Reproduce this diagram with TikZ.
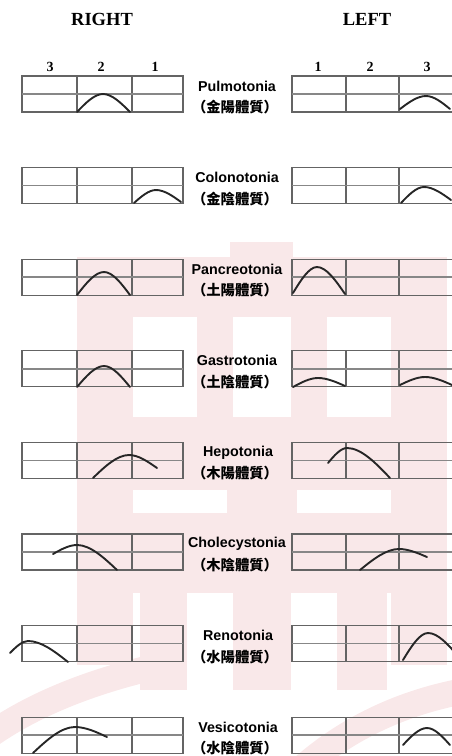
\documentclass[tikz,border=0pt]{standalone}
\usepackage{fontspec}
\setmainfont{Liberation Serif}
\setsansfont{Liberation Sans}
\newfontfamily\cjkfont{Noto Sans CJK TC}
\definecolor{wm}{RGB}{249,232,233}
\definecolor{boxgray}{RGB}{100,100,100}
\definecolor{midgray}{RGB}{135,135,135}
\newcommand\humpcurve[6]{%
  \pgfmathsetmacro\hca{#1+0.33*(#3-#1)}%
  \pgfmathsetmacro\hcb{#2+0.50*(#4-#2)}%
  \pgfmathsetmacro\hcc{#3-0.33*(#3-#1)}%
  \pgfmathsetmacro\hcd{#3+0.33*(#5-#3)}%
  \pgfmathsetmacro\hce{#5-0.33*(#5-#3)}%
  \pgfmathsetmacro\hcf{#6+0.50*(#4-#6)}%
  \draw[curve] (#1,#2) .. controls (\hca,\hcb) and (\hcc,#4) .. (#3,#4)
    .. controls (\hcd,#4) and (\hce,\hcf) .. (#5,#6);}
\newcommand\triboxes[1]{%
  \draw[boxline] (22,#1) rectangle (183,#1+36);
  \draw[boxline] (77,#1) -- (77,#1+36) (132,#1) -- (132,#1+36);
  \draw[midline] (22,#1+18) -- (183,#1+18);
  \draw[boxline] (460,#1) -- (292,#1) -- (292,#1+36) -- (460,#1+36);
  \draw[boxline] (346,#1) -- (346,#1+36) (399,#1) -- (399,#1+36);
  \draw[midline] (292,#1+18) -- (460,#1+18);}
\begin{document}
\begin{tikzpicture}[x=1pt,y=-1pt,
  boxline/.style={draw=boxgray,line width=1.3pt},
  midline/.style={draw=midgray,line width=1.7pt},
  curve/.style={draw=black!85,line width=1.9pt,line cap=round,line join=round},
  head/.style={font=\fontsize{18.5}{20}\selectfont\bfseries,inner sep=0pt},
  num/.style={font=\fontsize{14}{15}\selectfont\bfseries,inner sep=0pt},
  lab/.style={font=\sffamily\bfseries\fontsize{14.3}{16}\selectfont,inner sep=0pt},
  cjk/.style={font=\cjkfont\bfseries\fontsize{14.3}{16}\selectfont,inner sep=0pt}]
\useasboundingbox (0,0) rectangle (452,756);
\clip (0,0) rectangle (452,756);
% watermark
\fill[wm] (230,242) rectangle (293,257);
\fill[wm] (77,257) rectangle (447,317);
\fill[wm] (77,317) rectangle (133,490);
\fill[wm] (197,317) rectangle (233,490);
\fill[wm] (291,317) rectangle (327,490);
\fill[wm] (391,317) rectangle (447,490);
\fill[wm] (77,417) rectangle (447,490);
\fill[wm] (77,490) rectangle (133,513);
\fill[wm] (227,490) rectangle (297,513);
\fill[wm] (391,490) rectangle (447,513);
\fill[wm] (77,513) rectangle (447,593);
\fill[wm] (77,593) rectangle (133,665);
\fill[wm] (391,593) rectangle (447,665);
\fill[wm] (140,593) rectangle (187,690);
\fill[wm] (233,593) rectangle (291,690);
\fill[wm] (337,593) rectangle (387,690);
\draw[wm,line width=26pt] (-10,735) .. controls (40,700) and (100,680) .. (150,668);
\draw[wm,line width=26pt] (300,770) .. controls (350,725) and (410,700) .. (470,690);
% headers
\node[head] (hr) at (102,19) {RIGHT};
\node[head] (hl) at (367,19) {LEFT};
\node[num] (r3) at (50,67) {3};
\node[num] (r2) at (101,67) {2};
\node[num] (r1) at (155,67) {1};
\node[num] (l1) at (318,67) {1};
\node[num] (l2) at (370,67) {2};
\node[num] (l3) at (427,67) {3};
% boxes
\foreach \t in {76,167.6,259.2,350.8,442.4,534,625.6,717.2} {\triboxes{\t}}
% labels
\node[lab] (a1) at (237,86) {Pulmotonia};
\node[cjk] (b1) at (235,107) {（金陽體質）};
\node[lab] (a2) at (237,177.6) {Colonotonia};
\node[cjk] (b2) at (235,198.6) {（金陰體質）};
\node[lab] (a3) at (237,269.2) {Pancreotonia};
\node[cjk] (b3) at (235,290.2) {（土陽體質）};
\node[lab] (a4) at (237,360.8) {Gastrotonia};
\node[cjk] (b4) at (235,381.8) {（土陰體質）};
\node[lab] (a5) at (238,452.4) {Hepotonia};
\node[cjk] (b5) at (235,473.4) {（木陽體質）};
\node[lab] (a6) at (237,544) {Cholecystonia};
\node[cjk] (b6) at (235,565) {（木陰體質）};
\node[lab] (a7) at (238,635.6) {Renotonia};
\node[cjk] (b7) at (235,656.6) {（水陽體質）};
\node[lab] (a8) at (238,727.2) {Vesicotonia};
\node[cjk] (b8) at (235,748.2) {（水陰體質）};
% curves
\humpcurve{77}{112}{103}{94}{130}{112}
\humpcurve{400}{109}{426}{96}{450}{109}
\humpcurve{134}{203}{156}{190}{181}{202}
\humpcurve{401}{203}{424}{187}{451}{200}
\humpcurve{77}{295}{104}{272}{130}{295}
\humpcurve{293}{293}{317}{267}{345}{294}
\humpcurve{77}{387}{104}{366}{130}{387}
\humpcurve{293}{387}{318}{378}{345}{386}
\humpcurve{400}{385}{425}{377}{452}{385}
\humpcurve{93}{478}{129}{455}{157}{468}
\humpcurve{328}{463}{347}{448}{390}{478}
\humpcurve{53}{554}{77}{545}{117}{570}
\humpcurve{360}{570}{399}{549}{427}{557}
\humpcurve{10}{653}{28}{641}{68}{662}
\humpcurve{403}{660}{428}{633}{458}{656}
\humpcurve{33}{753}{75}{727}{107}{737}
\humpcurve{403}{745}{427}{728}{450}{745}
\end{tikzpicture}
\end{document}
